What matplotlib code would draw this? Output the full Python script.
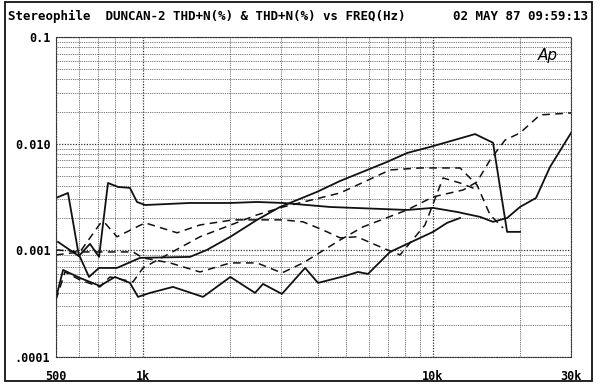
import matplotlib
matplotlib.use("Agg")
import matplotlib.pyplot as plt
import matplotlib.patches as patches
from matplotlib.ticker import FixedLocator, NullFormatter

# solid curve with the spike near 750 Hz, plateau, rise to 30k
freq_a = [500, 550, 600, 655, 704, 756, 818, 900, 952, 1015, 1451, 2000, 2472, 3040,
          3679, 4415, 8150, 10020, 12125, 14550, 16140, 18050, 20000, 22720, 25390, 30000]
thd_a = [0.0031, 0.00345, 0.000886, 0.00115, 0.000868, 0.00428, 0.00393, 0.00385, 0.00284,
         0.00266, 0.00278, 0.00278, 0.00284, 0.00278, 0.00266, 0.00255, 0.00239, 0.0025,
         0.00229, 0.00206, 0.00185, 0.00201, 0.00255, 0.0031, 0.00605, 0.0126]

# solid curve rising to a peak near 14k then dropping
freq_b = [508, 605, 650, 704, 812, 975, 1451, 1661, 2000, 2472, 2968, 3981, 4785, 6950,
          8150, 9780, 13990, 16140, 18050, 20000]
thd_b = [0.0012, 0.000868, 0.000563, 0.000684, 0.000684, 0.00085, 0.000868, 0.00101,
         0.00134, 0.00193, 0.00255, 0.00353, 0.00447, 0.00674, 0.00818, 0.00931, 0.0123,
         0.0102, 0.00149, 0.00149]

# lowest solid curve
freq_e = [500, 529, 605, 709, 799, 900, 960, 1056, 1267, 1609, 2000, 2433, 2593, 3013,
          3622, 4015, 4977, 5518, 5973, 7117, 10020, 11200, 12415]
thd_e = [0.000358, 0.000655, 0.000551, 0.000464, 0.000563, 0.000495, 0.000366, 0.000399,
         0.000454, 0.000366, 0.000563, 0.000399, 0.000484, 0.00039, 0.000684, 0.000495,
         0.000575, 0.000627, 0.000601, 0.000966, 0.00149, 0.00181, 0.00201]

# dashed curves
freq_d1 = [500, 537, 605, 709, 768, 922, 999, 1571, 2472, 3040, 4785, 7117, 9035, 12415,
           14210, 15760, 17480]
thd_d1 = [0.000343, 0.000627, 0.000528, 0.000454, 0.000563, 0.000506, 0.000684, 0.00134,
          0.00215, 0.00255, 0.00345, 0.00567, 0.00592, 0.00592, 0.0041, 0.00215, 0.00162]

freq_d2 = [500, 605, 709, 732, 812, 1015, 1309, 1571, 2041, 3040, 3564, 4178, 4785, 5470,
           6730, 7707, 9398, 10848, 12415, 14320]
thd_d2 = [0.000906, 0.000966, 0.00177, 0.00185, 0.00134, 0.00181, 0.00146, 0.00173,
          0.00193, 0.00193, 0.00185, 0.00155, 0.00131, 0.00134, 0.00105, 0.000906, 0.00173,
          0.00477, 0.00428, 0.00368]

freq_d3 = [500, 605, 768, 922, 999, 1238, 1571, 2000, 2472, 3013, 3564, 4785, 5742, 8150,
           10020, 12720, 14210, 15760, 17760, 20000, 23450, 30000]
thd_d3 = [0.00101, 0.000966, 0.000966, 0.000966, 0.00085, 0.000762, 0.000627, 0.000762,
          0.000762, 0.000614, 0.000762, 0.00125, 0.00166, 0.00239, 0.00317, 0.00368,
          0.00438, 0.00703, 0.0108, 0.0126, 0.0186, 0.0194]

x_major = [500, 1000, 10000, 30000]
x_labels = ["500", "1k", "10k", "30k"]
x_minor = [600, 700, 800, 900, 2000, 3000, 4000, 5000, 6000, 7000, 8000, 9000, 20000]
y_major = [0.0001, 0.001, 0.01, 0.1]
y_labels = [".0001", "0.001", "0.010", "0.1"]
y_minor = [m * d for d in (0.0001, 0.001, 0.01) for m in range(2, 10)]

title_left = "Stereophile  DUNCAN-2 THD+N(%) & THD+N(%) vs FREQ(Hz)"
title_right = "02 MAY 87 09:59:13"

mono = "DejaVu Sans Mono"

fig = plt.figure(figsize=(6, 3.91), dpi=100)
ax = fig.add_axes([56 / 600, 1 - 357 / 391, 515 / 600, 320 / 391])

ink = "#111111"
ax.plot(freq_a, thd_a, color=ink, lw=1.3)
ax.plot(freq_b, thd_b, color=ink, lw=1.3)
ax.plot(freq_e, thd_e, color=ink, lw=1.3)
dash = (0, (5, 3.5))
ax.plot(freq_d1, thd_d1, color=ink, lw=1.1, ls=dash)
ax.plot(freq_d2, thd_d2, color=ink, lw=1.1, ls=dash)
ax.plot(freq_d3, thd_d3, color=ink, lw=1.1, ls=dash)

ax.set_xscale("log")
ax.set_yscale("log")
ax.set_xlim(500, 30000)
ax.set_ylim(0.0001, 0.1)

ax.xaxis.set_major_locator(FixedLocator(x_major))
ax.xaxis.set_minor_locator(FixedLocator(x_minor))
ax.yaxis.set_major_locator(FixedLocator(y_major))
ax.yaxis.set_minor_locator(FixedLocator(y_minor))
ax.set_xticklabels(x_labels)
ax.set_yticklabels(y_labels)
ax.xaxis.set_minor_formatter(NullFormatter())
ax.yaxis.set_minor_formatter(NullFormatter())
ax.tick_params(which="both", length=0)
ax.tick_params(axis="x", pad=9)
ax.tick_params(axis="y", pad=4)
for lab in ax.get_xticklabels() + ax.get_yticklabels():
    lab.set_fontfamily(mono)
    lab.set_fontweight("bold")
    lab.set_fontsize(8.5)

ax.grid(which="major", ls=(0, (1, 1.2)), lw=0.9, color="#333333")
ax.grid(which="minor", ls=(0, (1, 1.2)), lw=0.6, color="#444444")
ax.set_axisbelow(True)
for sp in ax.spines.values():
    sp.set_linestyle((0, (1, 1.2)))
    sp.set_linewidth(0.8)
    sp.set_color("#333333")

ax.text(0.955, 0.965, "Ap", transform=ax.transAxes, ha="center", va="top",
        fontsize=11, style="italic", family="DejaVu Sans")

fig.text(8 / 600, 1 - 16 / 391, title_left, family=mono, weight="bold", fontsize=9,
         va="center", ha="left")
fig.text(588 / 600, 1 - 16 / 391, title_right, family=mono, weight="bold", fontsize=9,
         va="center", ha="right")

frame = patches.Rectangle((5 / 600, 1 - 381 / 391), 587 / 600, 379 / 391,
                          transform=fig.transFigure, fill=False, lw=1.3, color=ink)
fig.patches.append(frame)

fig.savefig("out.png", dpi=100)
